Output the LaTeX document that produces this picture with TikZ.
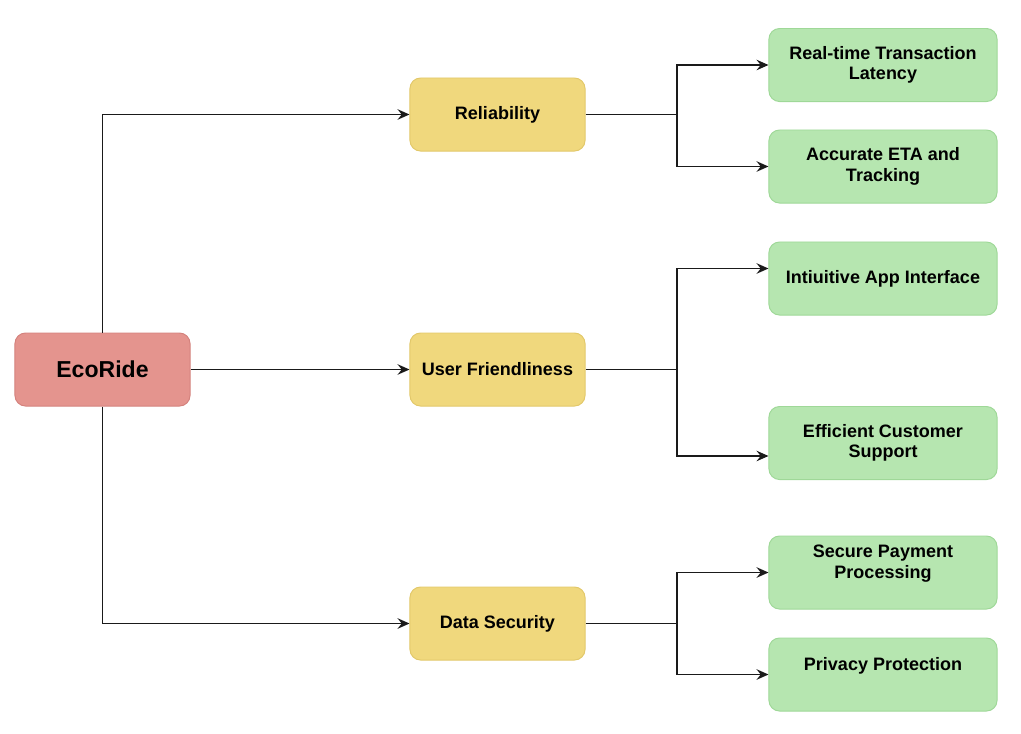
\documentclass[tikz,border=0pt]{standalone}
\usepackage{fontspec}
\setmainfont{Liberation Sans}
\usetikzlibrary{arrows.meta}
\definecolor{rootfill}{HTML}{E4948E}
\definecolor{rootline}{HTML}{D4827D}
\definecolor{midfill}{HTML}{F0D87D}
\definecolor{midline}{HTML}{E2C86A}
\definecolor{leaffill}{HTML}{B6E6B0}
\definecolor{leafline}{HTML}{9FD898}
\definecolor{connline}{HTML}{1A1A1A}
\begin{document}
\begin{tikzpicture}[
			x=0.025cm, y=-0.025cm,
			box/.style={rounded corners=7.5pt, draw, line width=0.7pt, align=center,
				minimum height=1.825cm, font=\bfseries\fontsize{12.8}{14.5}\selectfont},
			rootbox/.style={box, fill=rootfill, draw=rootline, minimum width=4.375cm,
				font=\bfseries\fontsize{16.4}{19}\selectfont},
			midbox/.style={box, fill=midfill, draw=midline, minimum width=4.375cm},
			leaf/.style={box, fill=leaffill, draw=leafline, minimum width=5.7cm},
			lbl/.style={align=center, inner sep=0pt, font=\bfseries\fontsize{12.8}{14.5}\selectfont},
			conn/.style={draw=connline, line width=1.1pt, -{Stealth[length=8.5pt,width=7.5pt,inset=3pt]}}
		]
		\useasboundingbox (0,0) rectangle (1021,733);
		% root and middle level
		\node[rootbox] (eco) at (102.5,369.5) {EcoRide};
		\node[midbox] (rel) at (497.5,114.5) {Reliability};
		\node[midbox] (uf) at (497.5,369.5) {User Friendliness};
		\node[midbox] (sec) at (497.5,623.5) {Data Security};
		% leaves
		\node[leaf] (rt) at (883,65) {Real-time Transaction\\Latency};
		\node[leaf] (eta) at (883,166.5) {Accurate ETA and\\Tracking};
		\node[leaf] (iface) at (883,278.5) {Intiuitive App Interface};
		\node[leaf] (support) at (883,443) {Efficient Customer\\Support};
		\node[leaf] (pay) at (883,572.5) {};
		\node[lbl] (paytxt) at ([shift={(0,-9)}]pay.center) {Secure Payment\\Processing};
		\node[leaf] (priv) at (883,674.5) {};
		\node[lbl] (privtxt) at ([shift={(0,-9)}]priv.center) {Privacy Protection};
		% forks
		\coordinate (relfork) at (677,114.5);
		\coordinate (uffork) at (677,369.5);
		\coordinate (secfork) at (677,623.5);
		% connectors
		\draw[conn] (eco.north) |- (rel.west);
		\draw[conn] (eco) -- (uf);
		\draw[conn] (eco.south) |- (sec.west);
		\draw[conn] (rel.east) -- (relfork) |- (rt.west);
		\draw[conn] (relfork) |- (eta.west);
		\draw[conn] (uf.east) -- (uffork) |- ([shift={(0,-10)}]iface.west);
		\draw[conn] (uffork) |- ([shift={(0,13)}]support.west);
		\draw[conn] (sec.east) -- (secfork) |- (pay.west);
		\draw[conn] (secfork) |- (priv.west);
	\end{tikzpicture}
\end{document}
